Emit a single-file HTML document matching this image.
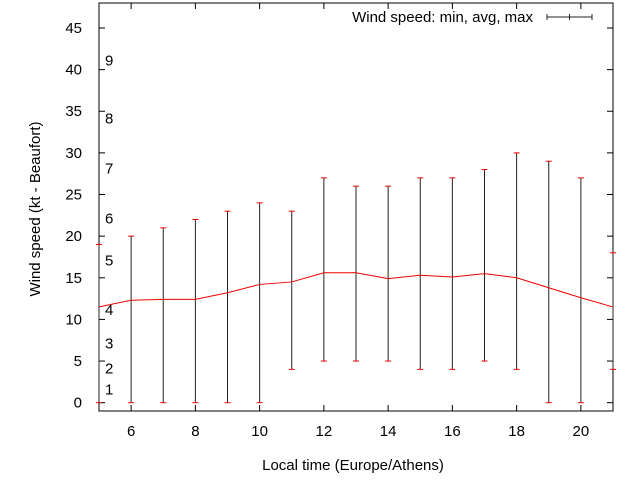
<!DOCTYPE html>
<html><head><meta charset="utf-8"><style>
body{margin:0;background:#fff;}
svg text{font-family:"Liberation Sans",sans-serif;font-size:15px;fill:#000;}
</style></head><body>
<svg id="chart" width="640" height="480" xmlns="http://www.w3.org/2000/svg">
<g id="axes"></g><g id="marks"></g>
</svg>
<script>
const hours=[5,6,7,8,9,10,11,12,13,14,15,16,17,18,19,20,21];
const avgSpeed=[11.5,12.3,12.4,12.4,13.2,14.2,14.5,15.6,15.6,14.9,15.3,15.1,15.5,15.0,13.8,12.6,11.5];
const minSpeed=[0,0,0,0,0,0,4,5,5,5,4,4,5,4,0,0,4];
const maxSpeed=[19,20,21,22,23,24,23,27,26,26,27,27,28,30,29,27,18];
const xTicks=[6,8,10,12,14,16,18,20];
const yTicks=[0,5,10,15,20,25,30,35,40,45];
const beaufortLabels=["1","2","3","4","5","6","7","8","9"];
const beaufortValues=[1,3.5,6.5,10.5,16.5,21.5,27.5,33.5,40.5];

const L=99,R=613,T=3,B=411,xMin=5,xMax=21,yMin=-1,yMax=48;
const X=v=>L+(v-xMin)/(xMax-xMin)*(R-L);
const Y=v=>B-(v-yMin)/(yMax-yMin)*(B-T);
const NS="http://www.w3.org/2000/svg";
function mk(tag,attrs,parent,txt){const e=document.createElementNS(NS,tag);for(const k in attrs)e.setAttribute(k,attrs[k]);if(txt!==undefined)e.textContent=txt;parent.appendChild(e);return e;}
const ax=document.getElementById('axes'),mg=document.getElementById('marks');

let f=mk('rect',{x:L,y:T,width:R-L,height:B-T,fill:'none',stroke:'#000','stroke-width':1},ax);


xTicks.forEach(v=>{const x=X(v);
 mk('line',{x1:x,y1:B,x2:x,y2:B-6,stroke:'#000'},ax);
 mk('line',{x1:x,y1:T,x2:x,y2:T+6,stroke:'#000'},ax);
 const t=mk('text',{x:x,y:B+25,'text-anchor':'middle'},ax,String(v));
 
});
yTicks.forEach(v=>{const y=Y(v);
 mk('line',{x1:L,y1:y,x2:L+6,y2:y,stroke:'#000'},ax);
 mk('line',{x1:R,y1:y,x2:R-6,y2:y,stroke:'#000'},ax);
 const t=mk('text',{x:L-17,y:y+5,'text-anchor':'end'},ax,String(v));
 
});
beaufortLabels.forEach((s,i)=>{
 const t=mk('text',{x:105,y:Y(beaufortValues[i])},ax,s);
 
});
let xt=mk('text',{x:353,y:470,'text-anchor':'middle','font-size':'16'},ax,'Local time (Europe/Athens)');

let yt=mk('text',{x:0,y:0,'text-anchor':'middle','font-size':'16',transform:'translate(40,209) rotate(-90)'},ax,'Wind speed (kt - Beaufort)');


const C='#e00',D='#222';
hours.forEach((h,i)=>{const x=X(h);
 const b=mk('line',{x1:x,y1:Y(minSpeed[i]),x2:x,y2:Y(maxSpeed[i]),stroke:D,'stroke-width':1},mg);
 
 mk('line',{x1:x-3,y1:Y(minSpeed[i]),x2:x+3,y2:Y(minSpeed[i]),stroke:C},mg);
 mk('line',{x1:x-3,y1:Y(maxSpeed[i]),x2:x+3,y2:Y(maxSpeed[i]),stroke:C},mg);
});
const pts=hours.map((h,i)=>X(h)+','+Y(avgSpeed[i])).join(' ');
const pl=mk('polyline',{points:pts,fill:'none',stroke:C,'stroke-width':1},mg);


const lg=mk('g',{},mg);
mk('text',{x:533,y:22,'text-anchor':'end','font-size':'16'},lg,'Wind speed: min, avg, max');
mk('line',{x1:547,y1:17,x2:592,y2:17,stroke:D},lg);
[547,569.5,592].forEach(x=>mk('line',{x1:x,y1:14,x2:x,y2:20,stroke:D},lg));
</script>
</body></html>
